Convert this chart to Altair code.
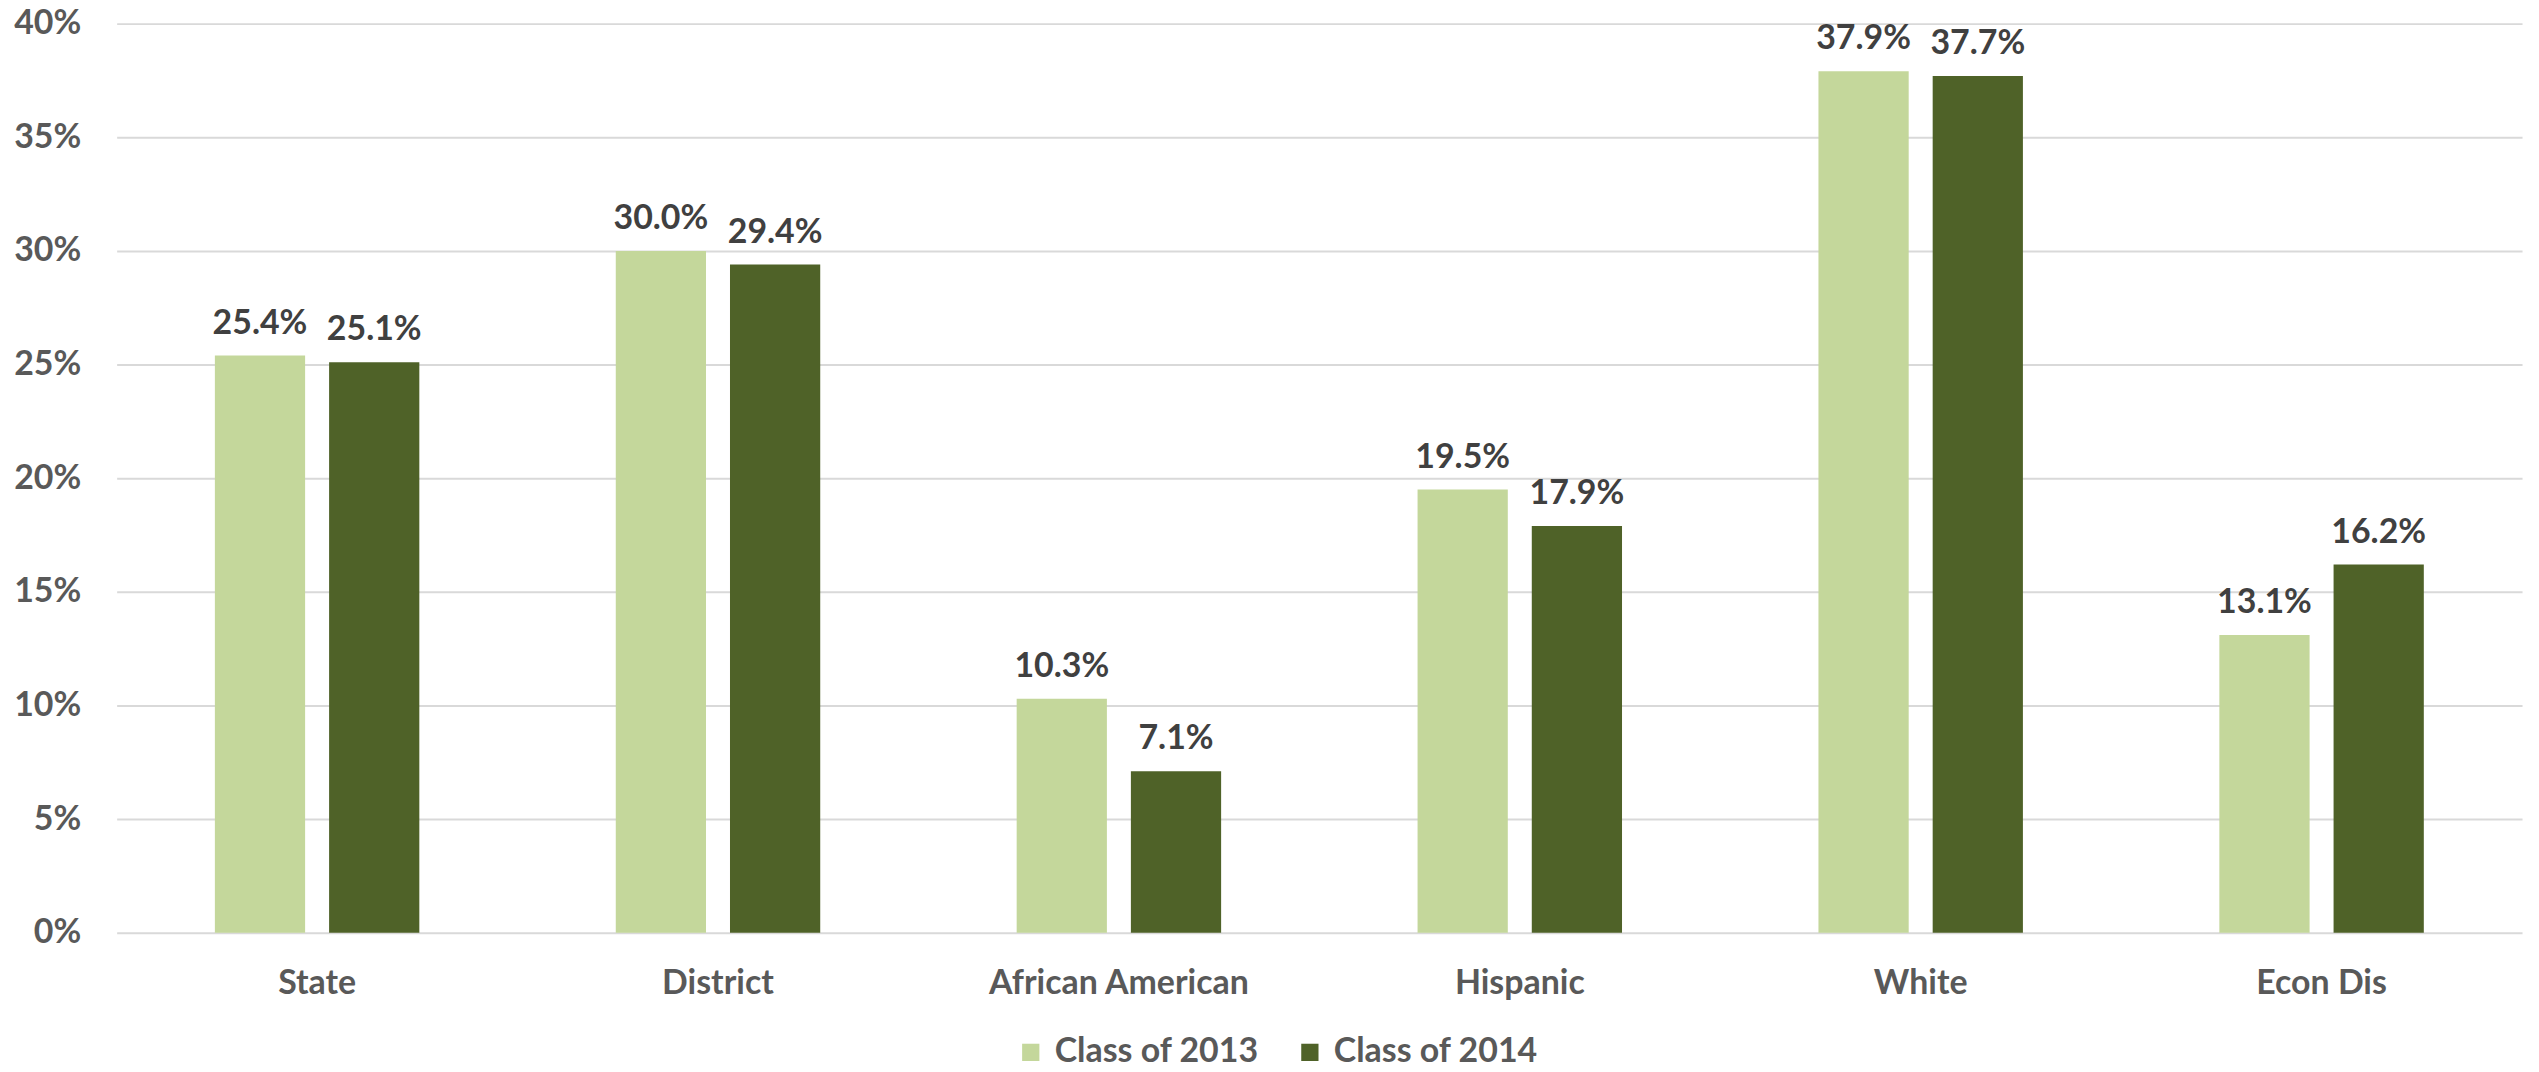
import altair as alt
import pandas as pd

categories = ["State", "District", "African American", "Hispanic", "White", "Econ Dis"]
series = ["Class of 2013", "Class of 2014"]
class_2013 = [0.254, 0.300, 0.103, 0.195, 0.379, 0.131]
class_2014 = [0.251, 0.294, 0.071, 0.179, 0.377, 0.162]
colors = ["#C4D79B", "#4F6228"]

rows = []
for c, a, b in zip(categories, class_2013, class_2014):
    rows.append({"cat": c, "series": series[0], "value": a})
    rows.append({"cat": c, "series": series[1], "value": b})
df = pd.DataFrame(rows)

FONT = "Lato"
FS = 34

x = alt.X("cat:N", sort=categories, title=None,
          scale=alt.Scale(paddingInner=0.49, paddingOuter=0.245),
          axis=alt.Axis(labelAngle=0, labelFont=FONT, labelFontSize=FS, labelFontWeight="bold",
                        labelColor="#595959", ticks=False, domain=False, labelPadding=34,
                        labelBaseline="top", labelLimit=600))
xo = alt.XOffset("series:N", sort=series, scale=alt.Scale(paddingInner=0.21, paddingOuter=0))
y = alt.Y("value:Q", title=None,
          scale=alt.Scale(domain=[0, 0.4], nice=False),
          axis=alt.Axis(format=".0%", values=[0, 0.05, 0.1, 0.15, 0.2, 0.25, 0.3, 0.35, 0.4],
                        labelFont=FONT, labelFontSize=FS, labelFontWeight="bold",
                        labelColor="#595959", ticks=False, domain=False, labelPadding=36,
                        grid=True, gridColor="#D9D9D9", gridWidth=2, labelLimit=300))

bars = alt.Chart(df).mark_bar().encode(
    x=x, xOffset=xo, y=y,
    color=alt.Color("series:N", sort=series,
                    scale=alt.Scale(domain=series, range=colors),
                    legend=alt.Legend(title=None, orient="none", direction="horizontal",
                                      legendX=900, legendY=1015, symbolType="square",
                                      symbolSize=300, symbolStrokeWidth=0, symbolOpacity=1,
                                      labelFont=FONT, labelFontSize=FS, labelFontWeight="bold",
                                      labelColor="#595959", labelOffset=7, columnPadding=34,
                                      labelLimit=600, padding=0))
)

labels = alt.Chart(df).mark_text(font=FONT, fontSize=FS, fontWeight="bold", color="#404040",
                                 baseline="alphabetic", dy=-22).encode(
    x=x, xOffset=xo, y=y,
    text=alt.Text("value:Q", format=".1%")
)

chart = alt.layer(bars, labels).properties(
    width=2413, height=912,
    autosize=alt.AutoSizeParams(type="none"),
    padding={"left": 109, "top": 14, "right": 9, "bottom": 130}
).configure_view(stroke=None)

chart.save("out.html", embed_options={"renderer": "svg", "actions": False})
